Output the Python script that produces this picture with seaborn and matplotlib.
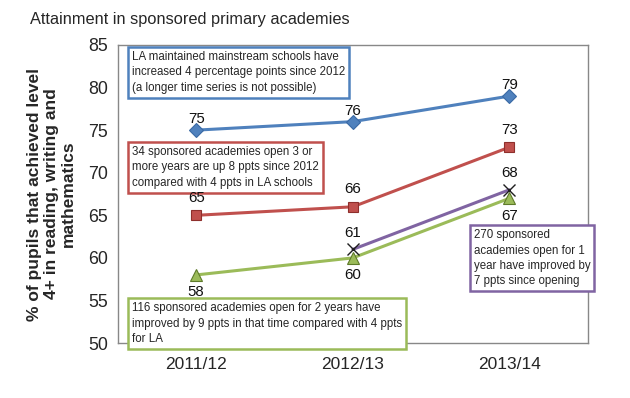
import numpy as np
import pandas as pd
import matplotlib
matplotlib.use("Agg")
import matplotlib.pyplot as plt
import seaborn as sns

# data
years = ["2011/12", "2012/13", "2013/14"]
la_schools = [75, 76, 79]
open_3plus = [65, 66, 73]
open_2yrs = [58, 60, 67]
open_1yr = [np.nan, 61, 68]

sns.set_style("white")
plt.rcParams['font.family'] = ['Liberation Sans', 'DejaVu Sans']

fig = plt.figure(figsize=(6.3, 3.98), dpi=100)
ax = fig.add_axes([0.187, 0.138, 0.746, 0.749])

# name, values, colour, marker, edge colour, marker size, label offset (pt)
series = [
    ("LA maintained", la_schools, "#4F81BD", "D", "#3A6AA5", 7.5, 8),
    ("Open 3+ years", open_3plus, "#C0504D", "s", "#8E2F2C", 7.5, 12.5),
    ("Open 2 years", open_2yrs, "#9BBB59", "^", "#5E7A2A", 8.5, -12.5),
    ("Open 1 year", open_1yr, "#8064A2", "x", "#1F1F1F", 8, 12),
]

pos = np.arange(len(years))
for name, vals, col, mk, edge, ms, dy in series:
    df = pd.DataFrame({"x": pos, "y": vals}).dropna()
    sns.lineplot(data=df, x="x", y="y", ax=ax, color=col, linewidth=2.2,
                 marker=mk, markersize=ms, markeredgecolor=edge,
                 markerfacecolor=col, markeredgewidth=0.8 if mk != "x" else 1.0,
                 legend=False)
    for xv, yv in zip(df["x"], df["y"]):
        ax.annotate(f"{int(yv)}", (xv, yv), xytext=(0, dy), textcoords="offset points",
                    ha="center", va="center", fontsize=10.8, color="#111111", zorder=6)

ax.set_xlim(-0.5, 2.5)
ax.set_ylim(50, 85)
ax.set_yticks(range(50, 86, 5))
ax.set_xticks(pos)
ax.set_xticklabels(years, fontsize=12.5)
ax.set_xticks([-0.5, 0.5, 1.5, 2.5], minor=True)
ax.tick_params(axis="x", which="major", length=0, pad=10)
ax.tick_params(axis="x", which="minor", length=5, direction="out", color="#888888", width=1)
ax.tick_params(axis="y", length=4, direction="out", color="#888888", labelsize=12.8, pad=3)
ax.set_xlabel("")
ax.set_ylabel("% of pupils that achieved level\n4+ in reading, writing and\nmathematics",
              fontsize=12.5, fontweight="bold", labelpad=9, linespacing=1.15)
for s in ax.spines.values():
    s.set_color("#888888")
    s.set_linewidth(1)

box_kw = dict(fontsize=8.3, ha="left", va="top", linespacing=1.38, zorder=5)
ax.text(-0.411, 84.3, "LA maintained mainstream schools have\nincreased 4 percentage points since 2012\n(a longer time series is not possible)",
        bbox=dict(boxstyle="square,pad=0.35", fc="white", ec="#4F81BD", lw=1.8), **box_kw)
ax.text(-0.411, 73.13, "34 sponsored academies open 3 or\nmore years are up 8 ppts since 2012\ncompared with 4 ppts in LA schools",
        bbox=dict(boxstyle="square,pad=0.35", fc="white", ec="#C0504D", lw=1.8), **box_kw)
ax.text(-0.411, 54.8, "116 sponsored academies open for 2 years have\nimproved by 9 ppts in that time compared with 4 ppts\nfor LA",
        bbox=dict(boxstyle="square,pad=0.35", fc="white", ec="#9BBB59", lw=1.8), **box_kw)
ax.text(1.772, 63.38, "270 sponsored\nacademies open for 1\nyear have improved by\n7 ppts since opening",
        bbox=dict(boxstyle="square,pad=0.35", fc="white", ec="#8064A2", lw=1.8), clip_on=False, **box_kw)

fig.text(0.048, 0.952, "Attainment in sponsored primary academies", fontsize=11.8, ha="left", va="center")

fig.savefig("out.png", dpi=100)
